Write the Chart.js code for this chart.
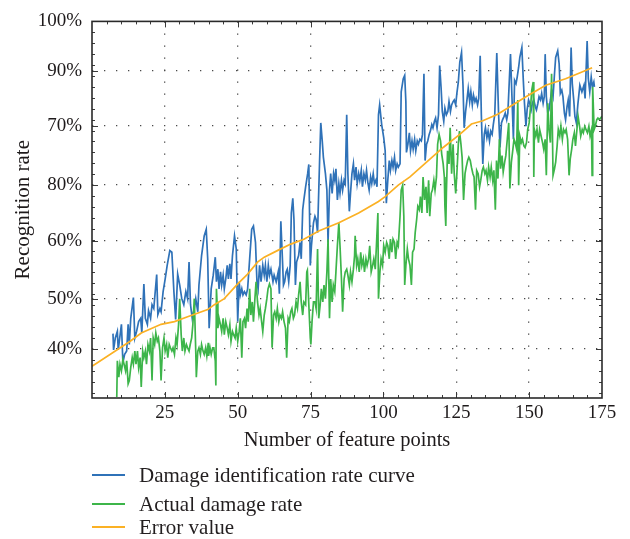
<!DOCTYPE html>
<html><head><meta charset="utf-8">
<script src="https://cdn.jsdelivr.net/npm/chart.js@4.4.1/dist/chart.umd.min.js"></script>
<style>
html,body{margin:0;padding:0;background:#fff;}
#wrap{position:relative;width:630px;height:539px;overflow:hidden;}
#c{position:absolute;left:0;top:0;}
.lg{position:absolute;left:92px;height:24px;display:flex;align-items:center;font-family:'Liberation Serif','Times New Roman',serif;font-size:21px;color:#231f20;white-space:nowrap;}
.lg .sw{display:inline-block;width:33px;height:2px;margin-right:14px;}
</style></head>
<body>
<div id="wrap">
<canvas id="c" width="630" height="539"></canvas>
<div id="legend"></div>
</div>
<script>
// ---------- data ----------
const xTickValues = [25, 50, 75, 100, 125, 150, 175];
const yTickValues = [40, 49.2, 59.8, 70.1, 80.9, 91.0, 100];
const yTickLabels = ['40%', '50%', '60%', '80%', '70%', '90%', '100%'];
const seriesNames = ['Damage identification rate curve', 'Actual damage rate', 'Error value'];
const seriesColors = ['#2f72b8', '#3db54a', '#fbb124'];

// [number of feature points, recognition rate]
const identificationRate = [
[7.2,42.8],[7.4,39.8],[8.0,42.0],[8.7,43.2],[9.0,39.8],[10.1,44.5],[10.6,37.5],[11.2,39.0],[11.9,39.6],[12.4,44.5],[12.8,40.8],[13.3,45.6],[14.2,49.4],[14.7,42.0],[15.3,43.2],[16.0,45.0],[16.7,45.6],[17.1,42.9],[17.8,51.9],[18.3,45.6],[19.0,44.5],[19.4,47.0],[20.1,45.6],[20.6,48.1],[21.2,47.4],[22.2,53.6],[22.6,46.3],[23.3,47.4],[23.7,46.8],[24.4,50.5],[25.1,52.8],[25.8,55.3],[26.7,58.0],[27.4,57.7],[28.1,50.5],[28.7,45.4],[29.4,53.7],[30.1,51.7],[30.8,49.2],[31.5,48.1],[32.2,50.5],[32.8,49.2],[33.3,55.9],[33.8,48.1],[34.4,45.6],[35.1,47.4],[35.6,49.2],[36.3,46.8],[36.7,51.7],[37.6,57.1],[38.5,60.7],[39.2,61.9],[39.7,56.5],[40.2,43.8],
[40.9,51.0],[41.6,53.5],[42.3,56.8],[42.7,52.3],[43.2,54.6],[43.6,51.0],[44.1,54.1],[44.5,51.7],[45.0,53.5],[45.4,51.0],[45.9,52.8],[46.4,55.3],[46.8,52.8],[47.3,55.6],[47.7,52.8],[48.2,57.1],[48.9,60.7],[49.5,58.3],[50.0,45.0],[50.5,52.3],[50.9,49.9],[51.4,51.0],[51.8,49.9],[52.3,50.5],[52.9,49.9],[53.4,51.0],[54.1,56.5],[54.8,61.9],[55.4,62.5],[56.1,59.5],[56.6,52.3],[57.0,51.0],[57.5,55.3],[58.0,52.3],[58.6,55.3],[59.1,53.5],[59.5,55.3],[60.0,52.3],[60.5,55.3],[60.9,53.5],[61.4,54.6],[62.1,52.3],[62.5,53.5],[63.2,52.3],[63.9,54.1],[64.3,50.1],[64.8,63.4],[65.2,58.3],[65.7,51.7],[66.1,52.3],[66.6,54.1],[67.0,54.6],[67.5,52.3],[68.0,55.3],[68.4,64.9],[68.9,67.6],[69.3,63.7],[69.8,51.7],[70.2,55.9],[70.9,57.1],[71.4,59.5],[71.8,56.5],[72.3,65.5],[72.7,67.3],
[73.3,69.7],[74.0,72.1],[74.4,73.8],[74.9,55.3],[75.3,58.9],[76.0,63.1],[76.5,64.3],[76.9,63.7],[77.4,61.3],[78.1,74.5],[78.5,81.4],[79.0,78.1],[79.4,75.1],[80.1,72.1],[80.6,69.1],[81.0,59.5],[81.5,69.1],[81.9,72.1],[82.4,68.5],[82.9,72.1],[83.3,70.9],[83.7,73.0],[84.2,67.3],[84.7,70.3],[85.1,68.5],[85.6,70.9],[86.0,69.1],[86.5,70.9],[86.9,70.3],[87.4,82.9],[87.8,72.1],[88.3,65.2],[88.7,68.5],[89.2,72.1],[89.7,73.9],[90.1,70.9],[90.6,73.3],[91.0,70.3],[91.5,72.1],[91.9,70.9],[92.4,72.7],[92.8,69.7],[93.3,72.1],[93.8,70.9],[94.2,72.7],[94.7,70.3],[95.1,69.1],[95.6,71.5],[96.0,70.3],[96.5,72.1],[96.9,70.3],[97.4,70.9],[97.8,69.7],[98.3,82.9],[98.7,84.7],[99.4,81.1],[100.1,78.7],[100.6,76.3],[101.0,66.7],[101.5,70.9],[102.0,74.5],[102.4,72.7],[102.9,74.5],[103.3,73.3],[103.8,75.1],[104.2,72.7],[104.7,73.9],[105.1,73.3],
[105.7,73.9],[106.1,87.1],[106.8,89.5],[107.3,90.1],[107.7,85.3],[107.9,76.0],[108.4,77.5],[108.9,79.6],[109.3,76.3],[109.8,78.1],[110.2,76.6],[110.7,78.4],[111.1,76.3],[111.6,78.1],[112.0,77.5],[112.5,78.4],[113.0,78.1],[113.4,79.3],[113.9,90.4],[114.3,74.5],[114.8,77.5],[115.2,78.1],[115.7,79.3],[116.1,79.9],[116.6,81.1],[117.0,80.5],[117.5,81.7],[117.9,82.3],[118.4,80.5],[118.9,82.9],[119.3,91.9],[119.8,87.7],[120.2,83.5],[120.7,81.7],[121.1,84.1],[121.6,82.9],[122.1,83.5],[122.5,85.3],[123.0,83.5],[123.4,84.7],[123.9,85.3],[124.3,85.6],[124.8,84.7],[125.2,86.8],[125.7,88.9],[126.2,92.5],[126.8,94.3],[127.3,88.3],[127.7,80.5],[128.2,83.5],[128.6,85.3],[129.1,87.7],[129.6,85.3],[130.0,87.1],[130.5,84.7],[130.9,86.5],[131.4,85.3],[131.8,85.9],[132.3,84.7],[132.7,85.9],[133.2,93.7],[133.6,82.9],[134.1,73.9],[134.6,79.3],[135.0,80.5],[135.5,78.7],[135.9,79.9],[136.4,78.1],[136.8,79.9],[137.3,79.3],[137.7,81.1],[138.2,82.9],[138.9,94.2],
[139.5,83.2],[140.0,76.9],[140.5,81.4],[140.9,82.0],[141.4,82.6],[141.8,83.2],[142.3,82.0],[142.7,83.2],[143.2,89.2],[143.6,94.0],[144.1,86.2],[144.6,78.4],[145.0,89.2],[145.5,88.6],[145.9,89.8],[146.4,91.6],[146.8,93.4],[147.5,95.2],[148.0,89.2],[148.4,85.0],[148.9,80.8],[149.3,83.8],[149.8,85.6],[150.2,85.0],[150.7,83.8],[151.1,85.0],[151.6,85.6],[152.1,84.4],[152.5,83.8],[153.0,85.0],[153.4,86.2],[153.9,85.6],[154.3,86.8],[154.8,85.0],[155.2,86.2],[155.5,94.0],[155.9,86.2],[156.4,83.2],[156.8,83.8],[157.3,85.6],[157.7,87.4],[158.2,86.2],[158.7,90.4],[159.1,93.4],[159.8,94.6],[160.3,92.2],[160.7,86.8],[161.2,87.4],[161.6,86.2],[162.1,83.2],[162.5,82.0],[163.0,84.4],[163.4,85.6],[163.9,82.6],[164.4,95.2],[164.8,88.6],[165.3,85.6],[165.7,82.6],[166.2,81.4],[166.7,84.7],[167.4,88.3],[168.1,87.1],[168.8,88.3],[169.2,85.9],[169.9,96.4],[170.3,89.5],[170.8,87.1],[171.3,89.8],[171.7,88.0],[172.2,88.9],[172.4,88.0]
];

const actualDamageRate = [
[8.5,31.2],[8.7,37.8],[9.2,34.8],[9.6,37.2],[10.1,36.0],[10.6,38.1],[11.0,37.2],[11.5,36.0],[11.9,37.8],[12.4,33.6],[12.8,34.2],[13.3,36.6],[13.8,38.4],[14.2,37.2],[14.7,39.6],[15.1,37.2],[15.6,39.6],[16.0,36.6],[16.5,38.4],[16.9,33.0],[17.4,39.6],[17.8,38.4],[18.3,39.6],[18.7,37.2],[19.2,40.8],[19.7,39.6],[20.1,42.0],[20.6,34.2],[21.0,42.0],[21.5,40.8],[21.9,42.9],[22.4,41.4],[22.8,42.0],[23.3,39.6],[23.7,34.2],[24.2,40.2],[24.7,42.0],[25.1,39.6],[25.6,40.8],[26.0,38.4],[26.5,40.8],[26.9,40.2],[27.4,39.6],[27.8,40.2],[28.3,39.0],[28.8,42.0],[29.2,40.8],[29.7,44.4],[30.1,49.2],[30.6,42.6],[31.0,39.6],[31.5,42.0],[31.9,39.6],[32.4,40.8],[32.8,40.2],[33.3,39.6],[33.7,40.8],[34.2,42.0],[34.6,44.4],[35.1,49.2],[35.6,39.6],[35.8,34.8],[36.3,39.6],[36.7,40.2],[37.2,39.0],[37.6,40.8],[38.1,39.6],[38.5,39.0],[39.0,40.2],[39.4,38.7],[39.9,41.1],
[40.0,38.7],[40.5,40.2],[40.9,39.0],[41.4,40.2],[41.8,40.2],[42.3,37.8],[42.5,33.3],[42.7,51.0],[42.9,48.6],[43.2,43.8],[43.6,45.6],[44.1,44.4],[44.5,43.2],[45.0,45.6],[45.4,42.6],[45.9,45.0],[46.4,43.8],[46.8,42.6],[47.3,44.4],[47.7,41.4],[48.2,43.2],[48.6,42.6],[49.1,42.0],[49.5,43.8],[50.0,41.4],[50.5,43.2],[50.9,45.6],[51.4,38.4],[51.8,45.0],[52.3,45.6],[52.7,43.8],[53.2,47.4],[53.6,45.0],[54.1,51.0],[54.5,46.2],[55.0,48.6],[55.4,45.0],[55.9,49.2],[56.3,52.3],[56.8,48.6],[57.3,46.2],[57.7,47.4],[58.2,45.0],[58.6,43.2],[59.1,46.2],[59.5,47.4],[60.0,49.2],[60.4,51.0],[60.9,51.9],[61.4,51.0],[61.8,40.2],[62.3,46.2],[62.7,46.8],[63.2,45.6],[63.6,47.4],[64.1,45.0],[64.5,46.2],[65.0,45.6],[65.4,46.8],[65.9,45.0],[66.4,43.8],[66.8,38.4],[67.3,45.6],[67.7,45.0],[68.2,46.8],[68.6,47.4],[69.1,45.6],[69.5,46.2],[70.0,48.6],[70.5,47.4],[70.9,49.9],[71.4,52.3],[71.8,48.6],[72.3,46.2],[72.7,48.6],
[73.3,48.1],[73.7,54.1],[73.9,54.4],[74.4,48.1],[74.9,42.0],[75.1,40.8],[75.5,45.0],[76.0,48.6],[76.5,48.6],[76.9,47.4],[77.4,58.3],[77.8,45.6],[78.3,48.1],[78.7,51.0],[79.2,48.6],[79.6,51.7],[80.1,49.2],[80.6,54.1],[81.0,60.1],[81.5,45.6],[81.9,52.8],[82.4,48.6],[82.8,51.7],[83.3,50.5],[83.7,54.1],[84.2,58.9],[84.7,63.1],[85.1,58.9],[85.6,52.8],[86.0,46.8],[86.5,52.8],[86.9,54.1],[87.4,54.6],[87.8,53.5],[88.3,51.7],[88.7,54.1],[89.2,52.3],[89.7,54.6],[90.1,57.1],[90.3,60.7],[90.8,55.3],[91.2,56.5],[91.7,54.1],[92.2,57.7],[92.6,55.3],[93.1,56.5],[93.5,54.1],[94.0,56.5],[94.4,55.3],[94.9,56.5],[95.3,58.9],[95.8,54.1],[96.3,55.3],[96.7,56.5],[97.2,54.6],[97.6,58.9],[98.1,64.9],[98.3,49.2],[98.8,54.1],[99.2,56.5],[99.7,55.3],[100.1,58.9],[100.6,57.7],[101.1,59.5],[101.5,58.9],[102.0,56.5],[102.4,60.1],[102.9,57.7],[103.3,60.1],[103.8,59.5],[104.2,56.5],[104.7,59.5],[105.1,58.9],
[105.7,64.3],[106.1,69.1],[106.6,70.0],[107.0,64.3],[107.3,51.7],[107.7,55.3],[108.2,58.3],[108.6,56.5],[109.1,55.3],[109.6,51.7],[110.0,57.7],[110.5,58.3],[110.9,61.3],[111.4,63.7],[111.8,66.1],[112.3,65.5],[112.7,67.9],[113.2,64.9],[113.6,71.5],[114.1,67.3],[114.6,69.7],[115.0,64.9],[115.5,70.9],[115.9,64.3],[116.4,68.5],[116.8,69.1],[117.3,70.9],[117.7,69.1],[118.2,71.5],[118.6,77.5],[119.1,79.3],[119.6,78.1],[120.0,75.7],[120.5,73.9],[120.9,71.5],[121.1,66.1],[121.4,62.5],[121.6,68.5],[122.0,76.3],[122.5,73.9],[122.9,80.5],[123.4,72.1],[123.9,77.5],[124.3,72.1],[124.8,68.5],[125.2,72.1],[125.7,77.5],[126.1,79.9],[126.6,77.5],[127.0,75.1],[127.5,67.3],[128.0,72.1],[128.4,73.3],[128.9,74.5],[129.3,75.1],[129.8,74.5],[130.2,73.3],[130.7,72.1],[131.1,71.5],[131.6,65.5],[132.0,72.7],[132.5,72.1],[133.0,69.7],[133.4,70.9],[133.9,72.7],[134.3,73.3],[134.8,72.1],[135.2,72.7],[135.7,70.9],[136.1,73.3],[136.6,71.5],[137.0,73.3],[137.5,70.9],[137.9,72.7],[138.4,65.5],[138.8,74.5],
[139.3,71.2],[139.8,78.4],[140.2,73.0],[140.7,75.4],[141.1,72.4],[141.6,74.2],[142.0,75.4],[142.5,78.4],[143.0,81.4],[143.4,69.4],[143.9,74.2],[144.3,76.0],[144.8,78.4],[145.2,77.8],[145.7,76.6],[146.1,85.6],[146.4,70.0],[146.8,79.0],[147.3,77.8],[147.7,78.4],[148.2,77.2],[148.6,76.9],[149.1,77.8],[149.5,80.2],[150.0,81.4],[150.5,84.4],[150.9,87.4],[151.4,88.9],[151.6,71.5],[151.8,80.2],[152.3,79.0],[152.7,80.2],[153.2,77.8],[153.6,80.2],[154.1,79.0],[154.6,77.8],[155.0,76.6],[155.5,78.4],[155.9,71.8],[156.4,85.0],[156.8,80.2],[157.3,77.8],[157.7,90.4],[158.2,71.8],[158.7,73.0],[159.1,74.2],[159.6,77.2],[160.0,80.2],[160.5,79.0],[160.9,80.8],[161.4,78.4],[161.8,80.2],[162.3,79.6],[162.7,80.2],[163.2,78.4],[163.7,71.8],[164.1,74.8],[164.6,76.6],[165.0,78.4],[165.5,79.6],[165.9,77.2],[166.4,80.2],[166.8,82.6],[167.3,80.8],[167.7,79.0],[168.2,80.2],[168.6,79.6],[169.1,80.8],[169.5,80.2],[170.0,79.6],[170.5,80.8],[170.9,79.0],[171.4,80.2],[171.6,71.8],[171.8,88.0],[172.3,80.2],[172.7,80.8],[173.2,82.0],[173.6,82.3],[174.1,82.0],[175.0,82.6]
];

const errorValue = [
[0,36.8],[13.1,41.4],[16.9,42.9],[23.7,44.5],[28.3,45.0],[32.8,45.9],[39.7,47.2],[42.0,48.1],[45.4,49.2],[50.0,51.9],[53.4,53.7],[56.8,55.9],[59.1,56.8],[63.6,58.0],[68.2,59.2],[72.7,60.1],[77.8,61.6],[84.7,63.1],[91.5,64.9],[98.3,67.0],[100.6,67.9],[105.1,70.0],[109.1,71.5],[114.8,74.2],[120.5,76.9],[126.2,79.3],[130.2,81.2],[134.1,81.8],[139.2,83.0],[148.9,86.2],[155.7,88.3],[162.5,89.5],[167.1,90.5],[171.6,91.5]
];

// ---------- chart ----------
const FONT = "'Liberation Serif','Times New Roman',serif";
const TEXT = '#1e1a1b';
const toPts = arr => arr.map(p => ({x: p[0], y: p[1]}));

const framePlugin = {
  id: 'frame',
  afterDraw(chart) {
    const {ctx, chartArea: a, scales: {x, y}} = chart;
    ctx.save();
    ctx.strokeStyle = '#3a3a3a';
    ctx.lineWidth = 1;
    ctx.beginPath();
    for (let v = 5; v < 175; v += 5) {
      const px = Math.round(x.getPixelForValue(v)) + 0.5;
      const len = xTickValues.includes(v) ? 6 : 3;
      ctx.moveTo(px, a.bottom); ctx.lineTo(px, a.bottom - len);
      ctx.moveTo(px, a.top); ctx.lineTo(px, a.top + len);
    }
    for (let v = 32; v < 100; v += 2) {
      const py = Math.round(y.getPixelForValue(v)) + 0.5;
      ctx.moveTo(a.left, py); ctx.lineTo(a.left + 3, py);
      ctx.moveTo(a.right, py); ctx.lineTo(a.right - 3, py);
    }
    yTickValues.forEach(v => {
      const py = Math.round(y.getPixelForValue(v)) + 0.5;
      ctx.moveTo(a.left, py); ctx.lineTo(a.left + 6, py);
      ctx.moveTo(a.right, py); ctx.lineTo(a.right - 6, py);
    });
    ctx.stroke();
    ctx.lineWidth = 1.6;
    ctx.strokeStyle = '#2a2a2a';
    ctx.strokeRect(a.left, a.top, a.right - a.left, a.bottom - a.top);
    ctx.restore();
  }
};

new Chart(document.getElementById('c'), {
  type: 'line',
  data: {
    datasets: [
      {label: seriesNames[0], data: toPts(identificationRate), borderColor: seriesColors[0], order: 2},
      {label: seriesNames[1], data: toPts(actualDamageRate), borderColor: seriesColors[1], order: 1},
      {label: seriesNames[2], data: toPts(errorValue), borderColor: seriesColors[2], order: 0}
    ]
  },
  options: {
    responsive: false,
    animation: false,
    layout: {padding: {left: 0, right: 28, top: 15, bottom: 84}},
    elements: {point: {radius: 0}, line: {tension: 0, borderWidth: 1.7, fill: false}},
    plugins: {legend: {display: false}, tooltip: {enabled: false}},
    scales: {
      x: {
        type: 'linear', min: 0, max: 175,
        afterBuildTicks: s => { s.ticks = xTickValues.map(v => ({value: v})); },
        afterFit: s => { s.height = 57; },
        ticks: {font: {family: FONT, size: 19}, color: TEXT, padding: 4, maxRotation: 0, autoSkip: false},
        grid: {drawTicks: false, lineWidth: 1.3, color: c => (c.tick && c.tick.value === 175) ? 'rgba(0,0,0,0)' : '#4a4a4a'},
        border: {display: false, dash: [1.3, 10.7]},
        title: {display: true, text: 'Number of feature points', color: TEXT, font: {family: FONT, size: 20.5}, padding: {top: 0, bottom: 2}}
      },
      y: {
        type: 'linear', min: 31, max: 100,
        afterBuildTicks: s => { s.ticks = yTickValues.map(v => ({value: v})); },
        afterFit: s => { s.width = 92; },
        ticks: {font: {family: FONT, size: 19}, color: TEXT, padding: 10, autoSkip: false,
                callback: (v, i) => yTickLabels[i]},
        grid: {drawTicks: false, lineWidth: 1.3, color: c => (c.tick && c.tick.value === 100) ? 'rgba(0,0,0,0)' : '#4a4a4a'},
        border: {display: false, dash: [1.3, 10.7]},
        title: {display: true, text: 'Recognition rate', color: TEXT, font: {family: FONT, size: 21}, padding: {top: 11, bottom: 0}}
      }
    }
  },
  plugins: [framePlugin]
});

// ---------- legend (HTML text) ----------
const legendRowsY = [475, 504, 527];
const lg = document.getElementById('legend');
seriesNames.forEach((name, i) => {
  const row = document.createElement('div');
  row.className = 'lg';
  row.style.top = (legendRowsY[i] - 12) + 'px';
  const sw = document.createElement('span');
  sw.className = 'sw';
  sw.style.background = seriesColors[i];
  const t = document.createElement('span');
  t.textContent = name;
  row.appendChild(sw); row.appendChild(t);
  lg.appendChild(row);
});
</script>
</body></html>
